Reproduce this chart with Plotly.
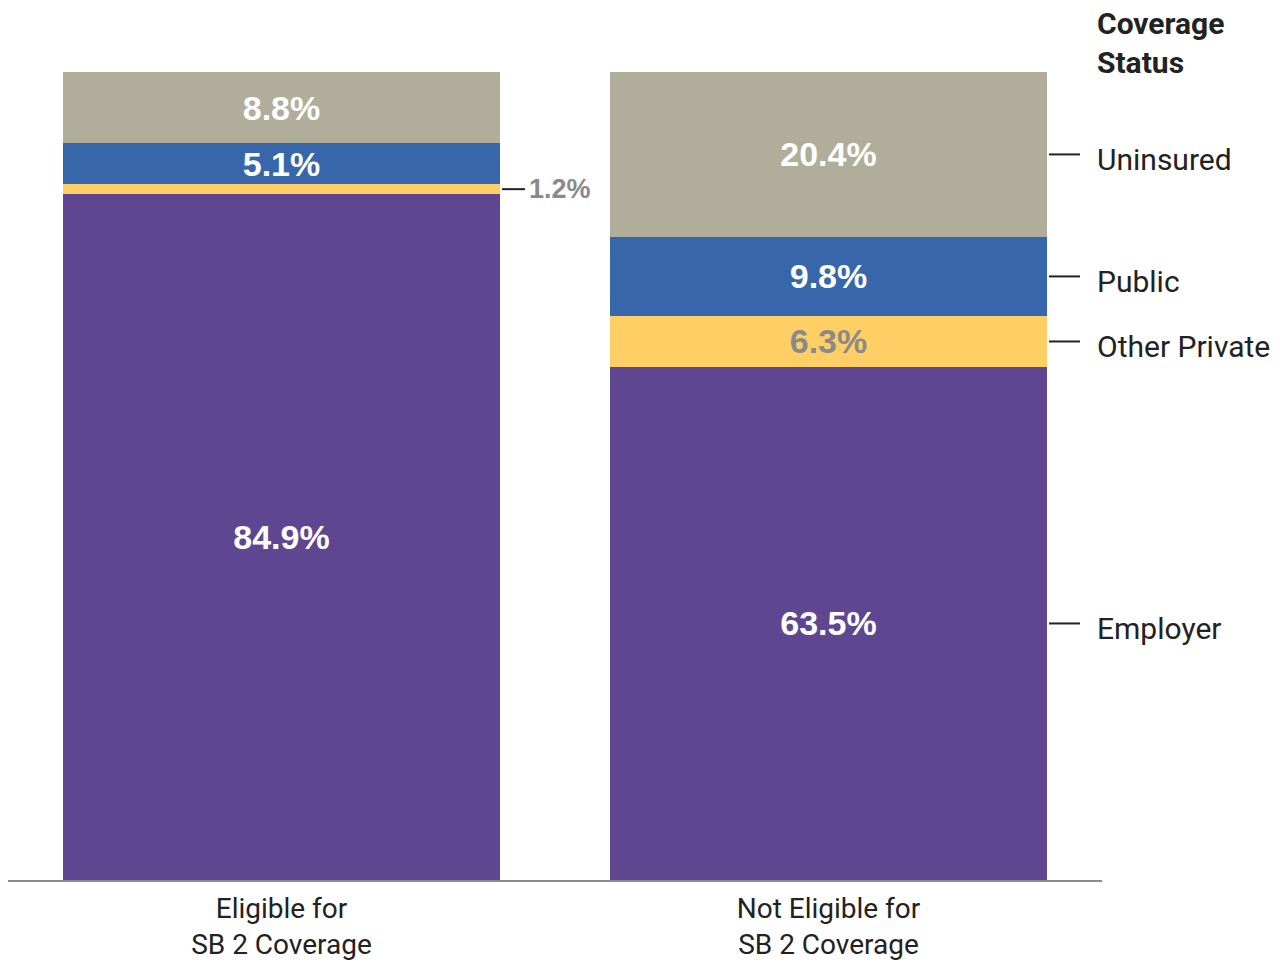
import plotly.graph_objects as go

categories = ["Eligible for<br>SB 2 Coverage", "Not Eligible for<br>SB 2 Coverage"]
series_names = ["Employer", "Other Private", "Public", "Uninsured"]
employer = [84.9, 63.5]
other_private = [1.2, 6.3]
public = [5.1, 9.8]
uninsured = [8.8, 20.4]

colors = ["#5E4790", "#FFCF66", "#3767AA", "#B0AE9A"]
text_colors = ["white", "#8A8A8A", "white", "white"]
series = [employer, other_private, public, uninsured]

COND = "Roboto, sans-serif"
BOLD = "Liberation Sans, Arial, Helvetica, sans-serif"

L, R, T, B = 8, 178, 72, 89
W, H = 1280, 969
pw = W - L - R

def px_to_paper(px):
    return (px - L) / pw

fig = go.Figure()
for name, vals, col, tcol in zip(series_names, series, colors, text_colors):
    texts = [f"{v:.1f}%" if v >= 3 else "" for v in vals]
    fig.add_trace(go.Bar(
        name=name, x=categories, y=vals, marker=dict(color=col, line=dict(width=0)),
        text=texts, textposition="inside", insidetextanchor="middle", textangle=0,
        constraintext="none",
        textfont=dict(family=BOLD, size=34, color=tcol, weight="bold"),
        hoverinfo="skip", cliponaxis=False,
    ))

annotations = []
shapes = []

# small-segment label (first bar, Other Private)
small_mid = employer[0] + other_private[0] / 2
shapes.append(dict(type="line", xref="paper", yref="y", x0=px_to_paper(502), x1=px_to_paper(525),
                   y0=small_mid, y1=small_mid, line=dict(color="#222222", width=2)))
annotations.append(dict(xref="paper", yref="y", x=px_to_paper(527), y=small_mid, xanchor="left",
                        yanchor="middle", text=f"{other_private[0]:.1f}%", showarrow=False,
                        font=dict(family=BOLD, size=27, color="#8A8A8A", weight="bold")))

# right-side legend labels at mid-points of the second bar
cum = 0
for name, vals in zip(series_names, series):
    mid = cum + vals[1] / 2
    cum += vals[1]
    shapes.append(dict(type="line", xref="paper", yref="y", x0=px_to_paper(1049), x1=px_to_paper(1080),
                       y0=mid, y1=mid, line=dict(color="#222222", width=2)))
    annotations.append(dict(xref="paper", yref="y", x=px_to_paper(1095), y=mid, xanchor="left",
                            yanchor="middle", yshift=-5, text=name, showarrow=False,
                            font=dict(family=COND, size=30, color="#222222")))

annotations.append(dict(xref="paper", yref="paper", x=px_to_paper(1095), y=(880 - 4) / 808,
                        xanchor="left", yanchor="top", align="left", text="<b>Coverage<br>Status</b>",
                        showarrow=False, font=dict(family=COND, size=30, color="#222222")))

fig.update_layout(
    barmode="stack", bargap=0.2, width=W, height=H,
    margin=dict(l=L, r=R, t=T, b=B, pad=0, autoexpand=False),
    plot_bgcolor="white", paper_bgcolor="white", showlegend=False,
    annotations=annotations, shapes=shapes,
)
fig.update_xaxes(showline=True, linecolor="#8C8C8C", linewidth=2, showgrid=False, ticks="outside",
                 ticklen=2, tickcolor="rgba(0,0,0,0)", automargin=False,
                 tickfont=dict(family=COND, size=28, color="#222222"))
fig.update_yaxes(range=[0, 100], visible=False, showgrid=False, automargin=False)

fig.write_html("out.html")
